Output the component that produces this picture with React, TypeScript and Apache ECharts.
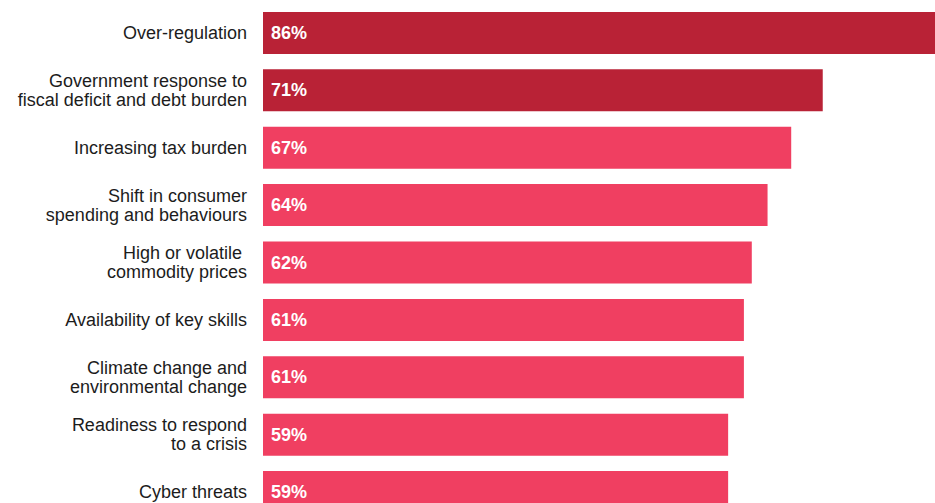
import React, { useEffect, useRef } from "react";
import * as echarts from "echarts";

const categories: string[] = [
  "Over-regulation",
  "Government response to\nfiscal deficit and debt burden",
  "Increasing tax burden",
  "Shift in consumer\nspending and behaviours",
  "High or volatile \ncommodity prices",
  "Availability of key skills",
  "Climate change and\nenvironmental change",
  "Readiness to respond\nto a crisis",
  "Cyber threats",
];

const values: number[] = [86, 71, 67, 64, 62, 61, 61, 59, 59];

const topGroup: boolean[] = [true, true, false, false, false, false, false, false, false];

const DARK = "#B92236";
const PINK = "#F03F61";
const FONT = "'Liberation Sans', Arial, Helvetica, sans-serif";

export default function App() {
  const ref = useRef<HTMLDivElement>(null);
  useEffect(() => {
    if (!ref.current) return;
    const chart = echarts.init(ref.current, undefined, { renderer: "svg" });
    chart.setOption({
      animation: false,
      backgroundColor: "#ffffff",
      grid: { left: 263, top: 4.3, height: 516.4, right: 4, containLabel: false },
      xAxis: {
        type: "value",
        min: 0,
        max: 86,
        show: false,
      },
      yAxis: {
        type: "category",
        data: categories,
        inverse: true,
        axisLine: { show: false },
        axisTick: { show: false },
        splitLine: { show: false },
        axisLabel: {
          margin: 16,
          fontSize: 18,
          lineHeight: 19,
          color: "#1c1c1c",
          fontFamily: FONT,
          align: "right",
        },
      },
      series: [
        {
          type: "bar",
          barWidth: 42,
          data: values.map((v, i) => ({
            value: v,
            itemStyle: { color: topGroup[i] ? DARK : PINK },
          })),
          label: {
            show: true,
            position: "insideLeft",
            distance: 8,
            color: "#ffffff",
            fontWeight: "bold",
            fontSize: 18,
            fontFamily: FONT,
            formatter: (p: any) => `${p.value}%`,
          },
        },
      ],
    });
    return () => chart.dispose();
  }, []);
  return (
    <div
      style={{
        position: "absolute",
        left: 0,
        top: 0,
        width: 935,
        height: 503,
        overflow: "hidden",
        background: "#fff",
      }}
    >
      <div ref={ref} style={{ width: 945, height: 521 }} />
    </div>
  );
}
